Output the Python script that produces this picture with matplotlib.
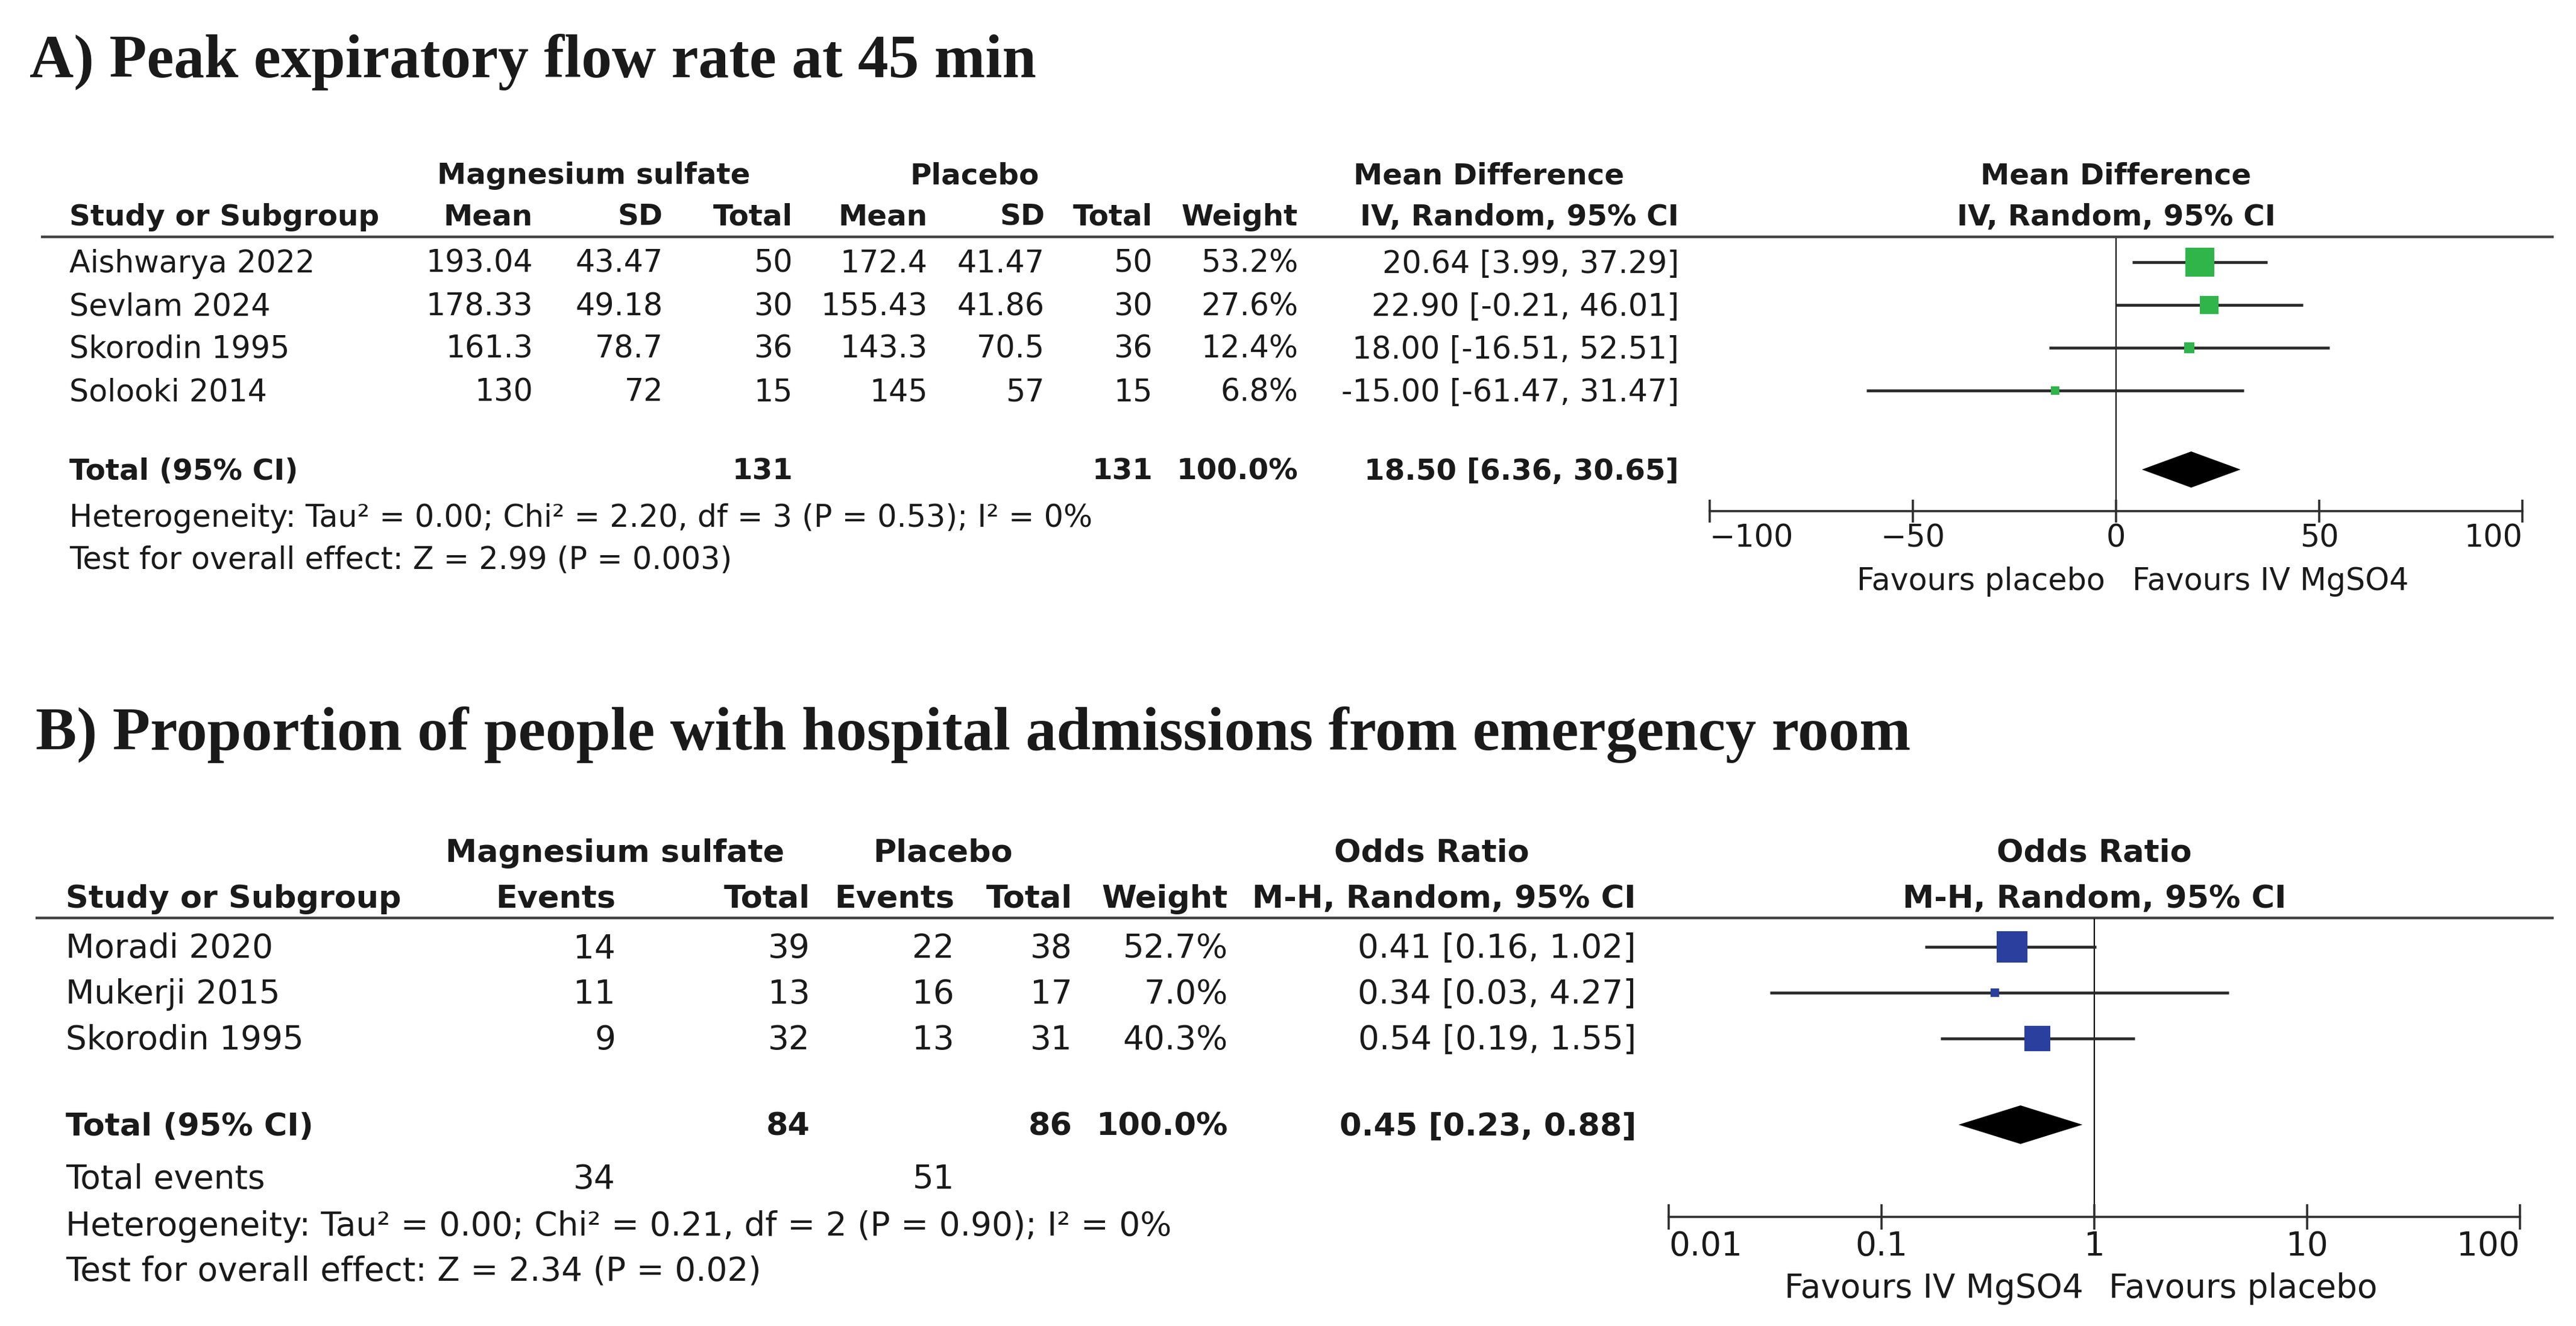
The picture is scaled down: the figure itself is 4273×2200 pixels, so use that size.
import numpy as np
import matplotlib.pyplot as plt
from matplotlib import transforms
from matplotlib.ticker import NullLocator

W, H, DPI = 4273, 2200, 100
SANS = ['DejaVu Sans']
SERIF = ['Liberation Serif', 'DejaVu Serif']
TXT = '#1a1a1a'

# ---------------- panel A: peak expiratory flow rate ----------------
title_a = "A) Peak expiratory flow rate at 45 min"
studies_a = ["Aishwarya 2022", "Sevlam 2024", "Skorodin 1995", "Solooki 2014"]
mg_mean_a = ["193.04", "178.33", "161.3", "130"]
mg_sd_a = ["43.47", "49.18", "78.7", "72"]
mg_n_a = [50, 30, 36, 15]
pl_mean_a = ["172.4", "155.43", "143.3", "145"]
pl_sd_a = ["41.47", "41.86", "70.5", "57"]
pl_n_a = [50, 30, 36, 15]
weight_a = [53.2, 27.6, 12.4, 6.8]
md_a = [20.64, 22.90, 18.00, -15.00]
lo_a = [3.99, -0.21, -16.51, -61.47]
hi_a = [37.29, 46.01, 52.51, 31.47]
total_a = [18.50, 6.36, 30.65]
het_a = "Heterogeneity: Tau² = 0.00; Chi² = 2.20, df = 3 (P = 0.53); I² = 0%"
test_a = "Test for overall effect: Z = 2.99 (P = 0.003)"
ticks_a = [-100, -50, 0, 50, 100]
ticklabels_a = ["\u2212100", "\u221250", "0", "50", "100"]
fav_a = ["Favours placebo", "Favours IV MgSO4"]

# ---------------- panel B: hospital admissions ----------------
title_b = "B) Proportion of people with hospital admissions from emergency room"
studies_b = ["Moradi 2020", "Mukerji 2015", "Skorodin 1995"]
mg_ev_b = [14, 11, 9]
mg_n_b = [39, 13, 32]
pl_ev_b = [22, 16, 13]
pl_n_b = [38, 17, 31]
weight_b = [52.7, 7.0, 40.3]
or_b = [0.41, 0.34, 0.54]
lo_b = [0.16, 0.03, 0.19]
hi_b = [1.02, 4.27, 1.55]
total_b = [0.45, 0.23, 0.88]
events_b = [34, 51]
het_b = "Heterogeneity: Tau² = 0.00; Chi² = 0.21, df = 2 (P = 0.90); I² = 0%"
test_b = "Test for overall effect: Z = 2.34 (P = 0.02)"
ticks_b = [0.01, 0.1, 1, 10, 100]
ticklabels_b = ["0.01", "0.1", "1", "10", "100"]
fav_b = ["Favours IV MgSO4", "Favours placebo"]


def ci_text(est, lo, hi):
    return f"{est:.2f} [{lo:.2f}, {hi:.2f}]"


def put(ax, x, yc, s, ha='left', size=36, bold=False, half=17):
    # yc is the visual centre of the capitals, so sit the baseline half a cap below
    # bold DejaVu runs wider than the original font, so shrink it a little
    ax.text(x, yc + half, s, ha=ha, va='baseline',
            fontsize=size * 0.955 if bold else size,
            fontweight='bold' if bold else 'normal', family=SANS, color=TXT)


def forest(fig, box, xlim, log, ticks, labels, fs, tick_len):
    x0, x1, ytop, ybot = box
    ax = fig.add_axes([x0 / W, 1 - ybot / H, (x1 - x0) / W, (ybot - ytop) / H])
    if log:
        ax.set_xscale('log')
    ax.set_xlim(*xlim)
    ax.set_ylim(ybot, ytop)
    ax.patch.set_alpha(0)
    for s in ['top', 'left', 'right']:
        ax.spines[s].set_visible(False)
    ax.spines['bottom'].set_linewidth(2.6)
    ax.spines['bottom'].set_color('#2e2e2e')
    ax.set_yticks([])
    ax.set_xticks(ticks)
    ax.set_xticklabels(labels, fontsize=fs, family=SANS, color=TXT)
    ax.xaxis.set_minor_locator(NullLocator())
    ax.tick_params(axis='x', direction='inout', length=tick_len, width=2.6,
                   color='#2e2e2e', pad=1)
    tl = ax.get_xticklabels()
    tl[0].set_ha('left')
    tl[-1].set_ha('right')
    return ax


def draw_forest(ax, est, lo, hi, w, rows_y, tot, tot_y, dh, colour, k, null):
    ax.axvline(null, color='black', lw=1.6, zorder=1)
    ax.hlines(rows_y, lo, hi, color='#2a2a2a', lw=3.4, zorder=2)
    side = np.maximum(k * np.array(w) ** 0.7, 14)
    ax.scatter(est, rows_y, marker='s', s=(side * 72 / DPI) ** 2,
               color=colour, linewidths=0, zorder=3)
    e, l, h = tot
    ax.fill([l, e, h, e], [tot_y, tot_y - dh, tot_y, tot_y + dh],
            color='black', lw=0, zorder=3)


fig = plt.figure(figsize=(W / DPI, H / DPI), dpi=DPI)
bg = fig.add_axes([0, 0, 1, 1])
bg.set_xlim(0, W)
bg.set_ylim(H, 0)
bg.axis('off')

# ===== panel A table =====
FA = 36.5
bg.text(49, 128, title_a, fontsize=73, fontweight='bold', family=SERIF, color=TXT)
put(bg, 985, 288, "Magnesium sulfate", 'center', FA, True)
put(bg, 1617, 288, "Placebo", 'center', FA, True)
put(bg, 2470, 288, "Mean Difference", 'center', FA, True)
put(bg, 3510, 288, "Mean Difference", 'center', FA, True)
hdr_a = [("Study or Subgroup", 115, 'left'), ("Mean", 884, 'right'), ("SD", 1100, 'right'),
         ("Total", 1315, 'right'), ("Mean", 1539, 'right'), ("SD", 1733, 'right'),
         ("Total", 1912, 'right'), ("Weight", 2153, 'right'),
         ("IV, Random, 95% CI", 2785, 'right'), ("IV, Random, 95% CI", 3510, 'center')]
for s, x, ha in hdr_a:
    put(bg, x, 357, s, ha, FA, True)
bg.plot([68, 4236], [393, 393], color='#444444', lw=3.2, solid_capstyle='butt')

rows_a = 435 + 71 * np.arange(len(studies_a))
for i, y in enumerate(rows_a):
    put(bg, 115, y, studies_a[i], 'left', FA)
    put(bg, 884, y, mg_mean_a[i], 'right', FA)
    put(bg, 1100, y, mg_sd_a[i], 'right', FA)
    put(bg, 1315, y, str(mg_n_a[i]), 'right', FA)
    put(bg, 1539, y, pl_mean_a[i], 'right', FA)
    put(bg, 1733, y, pl_sd_a[i], 'right', FA)
    put(bg, 1912, y, str(pl_n_a[i]), 'right', FA)
    put(bg, 2153, y, f"{weight_a[i]:.1f}%", 'right', FA)
    put(bg, 2785, y, ci_text(md_a[i], lo_a[i], hi_a[i]), 'right', FA)
tot_y_a = 779
put(bg, 115, tot_y_a, "Total (95% CI)", 'left', FA, True)
put(bg, 1315, tot_y_a, str(sum(mg_n_a)), 'right', FA, True)
put(bg, 1912, tot_y_a, str(sum(pl_n_a)), 'right', FA, True)
put(bg, 2153, tot_y_a, "100.0%", 'right', FA, True)
put(bg, 2785, tot_y_a, ci_text(*total_a), 'right', FA, True)
put(bg, 115, 857, het_a, 'left', FA)
put(bg, 115, 927, test_a, 'left', FA)

axa = forest(fig, (2836, 4184, 395, 848), (-100, 100), False, ticks_a, ticklabels_a,
             FA, 27)
draw_forest(axa, md_a, lo_a, hi_a, weight_a, rows_a, total_a, tot_y_a, 30,
            '#2fb54a', 3.0, 0)
ta = axa.transData
axa.text(0, 979, fav_a[0], ha='right', va='baseline', fontsize=FA, family=SANS, color=TXT,
         transform=transforms.offset_copy(ta, fig=fig, x=-18, y=0, units='dots'))
axa.text(0, 979, fav_a[1], ha='left', va='baseline', fontsize=FA, family=SANS, color=TXT,
         transform=transforms.offset_copy(ta, fig=fig, x=27, y=0, units='dots'))

# ===== panel B table =====
FB = 39.5
bg.text(59, 1244, title_b, fontsize=73.5, fontweight='bold', family=SERIF, color=TXT)
put(bg, 1020, 1412, "Magnesium sulfate", 'center', FB, True, 18)
put(bg, 1564, 1412, "Placebo", 'center', FB, True, 18)
put(bg, 2375, 1412, "Odds Ratio", 'center', FB, True, 18)
put(bg, 3474, 1412, "Odds Ratio", 'center', FB, True, 18)
hdr_b = [("Study or Subgroup", 109, 'left'), ("Events", 1021, 'right'), ("Total", 1344, 'right'),
         ("Events", 1583, 'right'), ("Total", 1779, 'right'), ("Weight", 2037, 'right'),
         ("M-H, Random, 95% CI", 2714, 'right'), ("M-H, Random, 95% CI", 3474, 'center')]
for s, x, ha in hdr_b:
    put(bg, x, 1488, s, ha, FB, True, 18)
bg.plot([59, 4236], [1523, 1523], color='#444444', lw=3.2, solid_capstyle='butt')

rows_b = 1571 + 76 * np.arange(len(studies_b))
for i, y in enumerate(rows_b):
    put(bg, 109, y, studies_b[i], 'left', FB, False, 18)
    put(bg, 1021, y, str(mg_ev_b[i]), 'right', FB, False, 18)
    put(bg, 1344, y, str(mg_n_b[i]), 'right', FB, False, 18)
    put(bg, 1583, y, str(pl_ev_b[i]), 'right', FB, False, 18)
    put(bg, 1779, y, str(pl_n_b[i]), 'right', FB, False, 18)
    put(bg, 2037, y, f"{weight_b[i]:.1f}%", 'right', FB, False, 18)
    put(bg, 2714, y, ci_text(or_b[i], lo_b[i], hi_b[i]), 'right', FB, False, 18)
tot_y_b = 1866
put(bg, 109, tot_y_b, "Total (95% CI)", 'left', FB, True, 18)
put(bg, 1344, tot_y_b, str(sum(mg_n_b)), 'right', FB, True, 18)
put(bg, 1779, tot_y_b, str(sum(pl_n_b)), 'right', FB, True, 18)
put(bg, 2037, tot_y_b, "100.0%", 'right', FB, True, 18)
put(bg, 2714, tot_y_b, ci_text(*total_b), 'right', FB, True, 18)
put(bg, 109, 1954, "Total events", 'left', FB, False, 18)
put(bg, 1021, 1954, str(events_b[0]), 'right', FB, False, 18)
put(bg, 1583, 1954, str(events_b[1]), 'right', FB, False, 18)
put(bg, 109, 2032, het_b, 'left', FB, False, 18)
put(bg, 109, 2107, test_b, 'left', FB, False, 18)

axb = forest(fig, (2768, 4180, 1524, 2019), (0.01, 100), True, ticks_b, ticklabels_b,
             FB, 30)
draw_forest(axb, or_b, lo_b, hi_b, weight_b, rows_b, total_b, tot_y_b, 32,
            '#2b3f9e', 3.2, 1)
tb = axb.transData
axb.text(1, 2153, fav_b[0], ha='right', va='baseline', fontsize=FB, family=SANS, color=TXT,
         transform=transforms.offset_copy(tb, fig=fig, x=-18, y=0, units='dots'))
axb.text(1, 2153, fav_b[1], ha='left', va='baseline', fontsize=FB, family=SANS, color=TXT,
         transform=transforms.offset_copy(tb, fig=fig, x=24, y=0, units='dots'))

fig.savefig('out.png', dpi=DPI, facecolor='white')
